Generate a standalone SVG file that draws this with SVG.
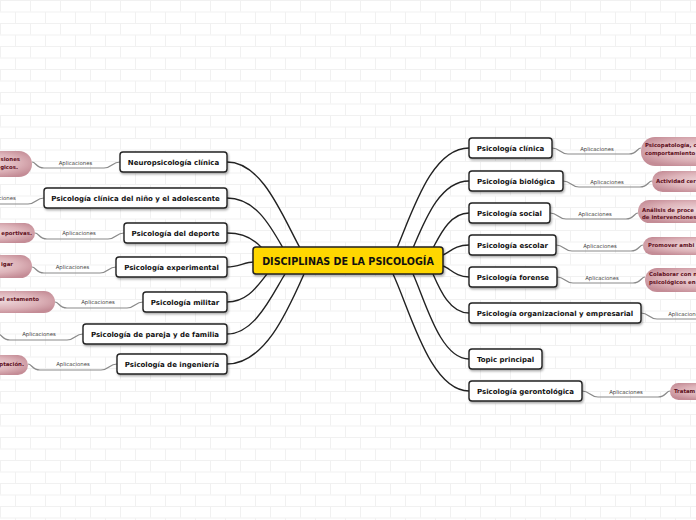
<svg xmlns="http://www.w3.org/2000/svg" width="696" height="520" viewBox="0 0 696 520">
<defs>
<pattern id="bricks" width="60" height="23" patternUnits="userSpaceOnUse">
<rect width="60" height="23" fill="#ffffff"/>
<path d="M0 0.5H60M0 12H60M0.5 0V11.5M30.5 0V11.5M15.5 12V23M45.5 12V23" stroke="#f1f1f1" stroke-width="1" fill="none"/>
</pattern>
<radialGradient id="pink" cx="50%" cy="45%" r="60%">
<stop offset="0" stop-color="#efd9dc"/>
<stop offset="0.6" stop-color="#ddb3b9"/>
<stop offset="1" stop-color="#c48c96"/>
</radialGradient>
<filter id="sh" x="-10%" y="-30%" width="120%" height="170%">
<feDropShadow dx="1" dy="1.5" stdDeviation="1" flood-color="#000" flood-opacity="0.35"/>
</filter>
</defs>
<style>
.node rect{fill:#fff;stroke:#222;stroke-width:1.4}
.node text,.center text{font-family:"DejaVu Sans",Verdana,sans-serif;font-weight:bold;font-size:7px;fill:#111;text-anchor:middle}
.center text{font-size:9.6px}
.conn path{fill:none;stroke:#222;stroke-width:1.4}
.sub path{fill:none;stroke:#8a8a8a;stroke-width:1.2}
.lbl{font-family:"DejaVu Sans",Verdana,sans-serif;font-size:5.4px;fill:#444;text-anchor:middle}
.pk rect{fill:url(#pink)}
.pk text{font-family:"DejaVu Sans",Verdana,sans-serif;font-weight:bold;font-size:5.4px;fill:#5e0f20}
.pk .e{text-anchor:end}
</style>
<rect width="696" height="520" fill="url(#bricks)"/>

<g id="connectors" class="conn">
<path d="M227 162 C262 162 282 215 300 248"/>
<path d="M227 198 C255 198 270 225 283 248"/>
<path d="M227 233 C245 233 255 240 262 248"/>
<path d="M227 267 C238 267 245 262 254 262"/>
<path d="M227 302 C248 302 258 285 267 274"/>
<path d="M227 334 C255 334 272 295 285 274"/>
<path d="M227 364 C265 364 288 310 304 274"/>
<path d="M469 148 C432 148 413 210 397 248"/>
<path d="M469 181 C440 181 425 220 413 248"/>
<path d="M469 213 C450 213 440 235 433 248"/>
<path d="M469 245 C455 245 450 252 443 255"/>
<path d="M469 277 C455 277 450 268 443 266"/>
<path d="M469 313 C450 313 440 290 433 274"/>
<path d="M469 359 C440 359 425 300 413 274"/>
<path d="M469 391 C430 391 410 310 393 274"/>
</g>

<g id="sub-connectors" class="sub">
<path d="M120 162 C112 162 112 168 104 168 L44 168 C36 168 36 162 32 162"/>
<path d="M44 198 C36 198 36 204 28 204 L-20 204"/>
<path d="M124 233 C116 233 116 239 108 239 L47 239 C39 239 39 233 35 233"/>
<path d="M116 267 C108 267 108 273 100 273 L44 273 C36 273 36 267 32 267"/>
<path d="M143 302 C135 302 135 308 127 308 L67 308 C59 308 59 302 55 302"/>
<path d="M83 334 C75 334 75 340 67 340 L10 340 C2 340 2 334 -2 334"/>
<path d="M117 364 C109 364 109 370 101 370 L40 370 C32 370 32 364 28 364"/>
<path d="M552 148 C560 148 560 154 568 154 L629 154 C637 154 637 148 641 148"/>
<path d="M563 181 C571 181 571 187 579 187 L640 187 C648 187 648 181 652 181"/>
<path d="M550 213 C558 213 558 219 566 219 L626 219 C634 219 634 213 638 213"/>
<path d="M556 245 C564 245 564 251 572 251 L631 251 C639 251 639 245 643 245"/>
<path d="M557 277 C565 277 565 283 573 283 L633 283 C641 283 641 277 645 277"/>
<path d="M641 313 C649 313 649 319 657 319 L700 319"/>
<path d="M582 391 C590 391 590 397 598 397 L658 397 C666 397 666 391 670 391"/>
</g>

<g id="labels">
<text class="lbl" x="75.5" y="165">Aplicaciones</text>
<text class="lbl" x="-1" y="200">Aplicaciones</text>
<text class="lbl" x="79" y="235">Aplicaciones</text>
<text class="lbl" x="72.5" y="269">Aplicaciones</text>
<text class="lbl" x="98" y="304">Aplicaciones</text>
<text class="lbl" x="39" y="336">Aplicaciones</text>
<text class="lbl" x="73" y="366">Aplicaciones</text>
<text class="lbl" x="597" y="151">Aplicaciones</text>
<text class="lbl" x="607" y="184">Aplicaciones</text>
<text class="lbl" x="595" y="216">Aplicaciones</text>
<text class="lbl" x="600" y="248">Aplicaciones</text>
<text class="lbl" x="602" y="280">Aplicaciones</text>
<text class="lbl" x="685" y="316">Aplicaciones</text>
<text class="lbl" x="626" y="394">Aplicaciones</text>
</g>

<g id="pink-neuro" class="pk"><rect x="-60" y="151" width="92" height="26" rx="13"/><text class="e" x="20" y="161">siones</text><text class="e" x="18" y="168.5">gicos.</text></g>
<g id="pink-deporte" class="pk"><rect x="-60" y="223" width="95" height="20" rx="10"/><text class="e" x="32" y="235">eportivas.</text></g>
<g id="pink-experimental" class="pk"><rect x="-60" y="255" width="92" height="23" rx="11.5"/><text class="e" x="13" y="266">igar</text></g>
<g id="pink-militar" class="pk"><rect x="-60" y="291" width="115" height="22" rx="11"/><text class="e" x="39" y="301">el estamento</text></g>
<g id="pink-ingenieria" class="pk"><rect x="-60" y="355" width="88" height="20" rx="10"/><text class="e" x="24" y="366">ptación.</text></g>
<g id="pink-clinica" class="pk"><rect x="641" y="137" width="120" height="29" rx="14"/><text x="645" y="147">Psicopatología, c</text><text x="645" y="155">comportamiento</text></g>
<g id="pink-biologica" class="pk"><rect x="652" y="171" width="110" height="21" rx="10.5"/><text x="656" y="183">Actividad cer</text></g>
<g id="pink-social" class="pk"><rect x="638" y="200" width="120" height="23" rx="11.5"/><text x="642" y="211.5">Análisis de proce</text><text x="642" y="218.5">de intervenciones</text></g>
<g id="pink-escolar" class="pk"><rect x="643" y="237" width="120" height="18" rx="9"/><text x="648" y="247">Promover ambi</text></g>
<g id="pink-forense" class="pk"><rect x="645" y="268" width="120" height="24" rx="12"/><text x="649" y="276">Colaborar con n</text><text x="649" y="284">psicológicos en</text></g>
<g id="pink-gerontologica" class="pk"><rect x="670" y="383" width="100" height="17" rx="8.5"/><text x="674" y="393">Tratam</text></g>

<g id="center" class="center"><rect x="253" y="247" width="190" height="27" rx="3" fill="#FFD700" stroke="#222" stroke-width="1.5" filter="url(#sh)"/><text x="348" y="265">DISCIPLINAS DE LA PSICOLOGÍA</text></g>

<g id="n-neuro" class="node"><rect x="120" y="152" width="107" height="20" rx="3" filter="url(#sh)"/><text x="173.5" y="164.5">Neuropsicología clínica</text></g>
<g id="n-nino" class="node"><rect x="44" y="188" width="183" height="20" rx="3" filter="url(#sh)"/><text x="135.5" y="200.5">Psicología clínica del niño y el adolescente</text></g>
<g id="n-deporte" class="node"><rect x="124" y="223" width="103" height="20" rx="3" filter="url(#sh)"/><text x="175.5" y="235.5">Psicología del deporte</text></g>
<g id="n-experimental" class="node"><rect x="116" y="257" width="111" height="20" rx="3" filter="url(#sh)"/><text x="171.5" y="269.5">Psicología experimental</text></g>
<g id="n-militar" class="node"><rect x="143" y="292" width="84" height="20" rx="3" filter="url(#sh)"/><text x="185" y="304.5">Psicología militar</text></g>
<g id="n-pareja" class="node"><rect x="83" y="324" width="144" height="20" rx="3" filter="url(#sh)"/><text x="155" y="336.5">Psicología de pareja y de familia</text></g>
<g id="n-ingenieria" class="node"><rect x="117" y="354" width="110" height="20" rx="3" filter="url(#sh)"/><text x="172" y="366.5">Psicología de ingeniería</text></g>

<g id="n-clinica" class="node"><rect x="469" y="138" width="83" height="20" rx="3" filter="url(#sh)"/><text x="510.5" y="150.5">Psicología clínica</text></g>
<g id="n-biologica" class="node"><rect x="469" y="171" width="94" height="20" rx="3" filter="url(#sh)"/><text x="516" y="183.5">Psicología biológica</text></g>
<g id="n-social" class="node"><rect x="469" y="203" width="81" height="20" rx="3" filter="url(#sh)"/><text x="509.5" y="215.5">Psicología social</text></g>
<g id="n-escolar" class="node"><rect x="469" y="235" width="87" height="20" rx="3" filter="url(#sh)"/><text x="512.5" y="247.5">Psicología escolar</text></g>
<g id="n-forense" class="node"><rect x="469" y="267" width="88" height="20" rx="3" filter="url(#sh)"/><text x="513" y="279.5">Psicología forense</text></g>
<g id="n-organizacional" class="node"><rect x="469" y="303" width="172" height="20" rx="3" filter="url(#sh)"/><text x="555" y="315.5">Psicología organizacional y empresarial</text></g>
<g id="n-topic" class="node"><rect x="469" y="349" width="73" height="20" rx="3" filter="url(#sh)"/><text x="505.5" y="361.5">Topic principal</text></g>
<g id="n-gerontologica" class="node"><rect x="469" y="381" width="113" height="20" rx="3" filter="url(#sh)"/><text x="525.5" y="393.5">Psicología gerontológica</text></g>
</svg>
